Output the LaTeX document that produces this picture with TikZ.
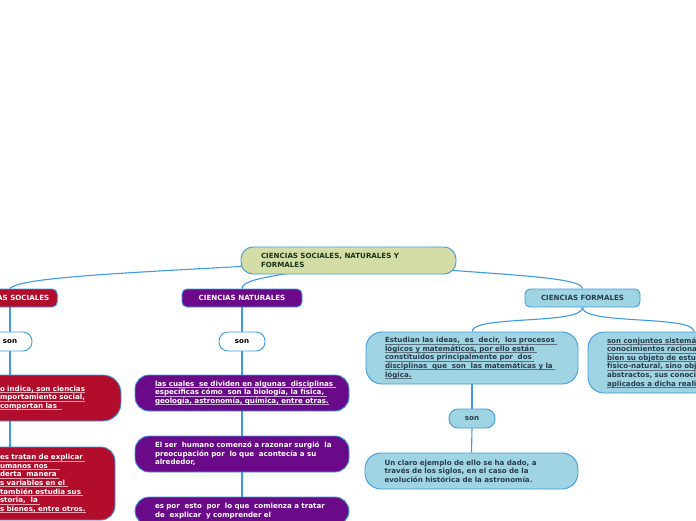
\documentclass[tikz,border=0pt]{standalone}
\usepackage{fontspec}
\setmainfont{DejaVu Sans}
\usetikzlibrary{backgrounds}
\definecolor{lineblue}{HTML}{3D9BE0}
\definecolor{rootfill}{HTML}{D4DDA6}
\definecolor{roottext}{HTML}{163416}
\definecolor{socred}{HTML}{B20D2B}
\definecolor{natpurple}{HTML}{6B0A88}
\definecolor{formblue}{HTML}{9FD4E3}
\definecolor{darktext}{HTML}{2A3B4C}
\definecolor{ulred}{HTML}{E7A3B2}
\definecolor{ulpurple}{HTML}{C7A6D8}
\definecolor{ulblue}{HTML}{5E707C}
\newcommand\ulw[2]{\leavevmode\setbox0=\hbox{#2}\rlap{\color{#1}\rule[-1.4pt]{\wd0}{0.5pt}}\box0}
\newcommand\nl[1]{\leavevmode\hbox{#1}}
\begin{document}
\begin{tikzpicture}[x=1pt,y=-1pt,
  every node/.style={font=\fontsize{7.1}{8.6}\selectfont\bfseries},
  box/.style={draw=lineblue, line width=0.9pt, align=left},
  titlebox/.style={draw=lineblue, line width=0.9pt, rounded corners=5, minimum height=18, inner xsep=8, align=center},
  sonbox/.style={draw=lineblue, line width=0.9pt, rounded corners=9, minimum height=19, minimum width=46, inner sep=0},
  conn/.style={draw=lineblue, line width=1.1pt}]
\useasboundingbox (0,0) rectangle (696,520);
\clip (0,0) rectangle (696,520);

% root
\node[box, fill=rootfill, text=roottext, rounded corners=12, minimum width=215, minimum height=27, text width=175, inner xsep=20] (root) at (348.5,260.5) {\nl{CIENCIAS SOCIALES, NATURALES Y}\\\nl{FORMALES}};

% ciencias sociales
\node[titlebox, fill=socred, text=white] (soc) at (10,298) {CIENCIAS SOCIALES};
\node[sonbox, fill=white, text=black, minimum width=44] (sson) at (10,341.5) {son};
\node[box, fill=socred, text=white, rounded corners=18, minimum width=141, minimum height=46, text width=101, inner xsep=20] (s1) at (50.5,398) {\ulw{ulred}{o indica, son ciencias}\\\ulw{ulred}{mportamiento social,}\\\ulw{ulred}{comportan las\ \ }};
\node[box, fill=socred, text=white, rounded corners=14, minimum width=135, minimum height=73, text width=95, inner xsep=20] (s2) at (47.5,483.5) {\ulw{ulred}{es tratan de explicar\ }\\\ulw{ulred}{umanos nos\ \ \ \ \ }\\\ulw{ulred}{derta\ \ manera\ }\\\ulw{ulred}{s variables en el\ }\\\ulw{ulred}{también estudia sus\ }\\\ulw{ulred}{storia,\ \ la\ }\\\ulw{ulred}{s bienes, entre otros.}};

% ciencias naturales
\node[titlebox, fill=natpurple, text=white, minimum width=120] (nat) at (242,298) {CIENCIAS NATURALES};
\node[sonbox, fill=white, text=black] (nson) at (242,341.5) {son};
\node[box, fill=natpurple, text=white, rounded corners=14, minimum width=214, minimum height=36, text width=174, inner xsep=20] (n1) at (242,393) {\ulw{ulpurple}{las cuales\ \ se dividen en algunas\ \ disciplinas\ }\\\ulw{ulpurple}{específicas cómo\ \ son la biología, la física,\ }\\\ulw{ulpurple}{geología, astronomía, química, entre otras.}};
\node[box, fill=natpurple, text=white, rounded corners=14, minimum width=214, minimum height=36, text width=174, inner xsep=20] (n2) at (242,454) {\nl{El ser\ \ humano comenzó a razonar surgió\ \ la}\\\nl{preocupación por\ \ lo que\ \ acontecía a su}\\\nl{alrededor,}};
\node[box, fill=natpurple, text=white, rounded corners=14, minimum width=214, minimum height=28, text width=174, inner xsep=20] (n3) at (242,511) {\nl{es por\ \ esto\ \ por\ \ lo que\ \ comienza a tratar}\\\nl{de\ \ explicar\ \ y comprender el}};

% ciencias formales
\node[titlebox, fill=formblue, text=darktext, minimum width=115] (form) at (582.5,298) {CIENCIAS FORMALES};
\node[box, fill=formblue, text=darktext, rounded corners=16, minimum width=212, minimum height=52, text width=174, inner xsep=19] (f1) at (472,358) {\ulw{ulblue}{Estudian las ideas,\ \ es\ \ decir,\ \ los procesos\ }\\\ulw{ulblue}{lógicos y matemáticos, por ello están\ }\\\ulw{ulblue}{constituidos principalmente por\ \ dos\ }\\\ulw{ulblue}{disciplinas\ \ que\ \ son\ \ las matemáticas y la\ }\\\ulw{ulblue}{lógica.}};
\node[box, fill=formblue, text=darktext, rounded corners=16, minimum width=212, minimum height=61, text width=174, inner xsep=19] (f2) at (694,362.5) {\ulw{ulblue}{son conjuntos sistemáticos de}\\\ulw{ulblue}{conocimientos racionales}\\\ulw{ulblue}{bien su objeto de estudio}\\\ulw{ulblue}{físico-natural, sino objetos}\\\nl{abstractos, sus conocimientos}\\\ulw{ulblue}{aplicados a dicha realidad}};
\node[sonbox, fill=formblue, text=darktext] (fson) at (472,418.5) {son};
\node[box, fill=formblue, text=darktext, rounded corners=16, minimum width=213, minimum height=36, text width=174, inner xsep=19] (f3) at (471.5,471) {\nl{Un claro ejemplo de ello se ha dado, a}\\\nl{través de los siglos, en el caso de la}\\\nl{evolución histórica de la astronomía.}};

\begin{scope}[on background layer]
  \draw[conn] (root.center) .. controls (150,272) and (20,276) .. (soc.north);
  \draw[conn] (root.center) .. controls (300,275) and (242,276) .. (nat.north);
  \draw[conn] (root.center) .. controls (450,274) and (582.5,274) .. (form.north);
  \draw[conn] (form.south) .. controls (582.5,325) and (472,315) .. (f1.north);
  \draw[conn] (form.south) .. controls (582.5,325) and (694,315) .. (f2.north);
  \draw[conn] (soc.south) -- (sson.north);
  \draw[conn] (sson.south) -- (sson.south |- s1.north);
  \draw[conn] (sson |- s1.south) -- (sson |- s2.north);
  \draw[conn] (nat.south) -- (nson.north);
  \draw[conn] (nson.south) -- (n1.north);
  \draw[conn] (n1.south) -- (n2.north);
  \draw[conn] (n2.south) -- (n3.north);
  \draw[conn] (f1.south) -- (fson.north);
  \draw[conn] (fson.south) -- (f3.north);
\end{scope}
\end{tikzpicture}
\end{document}
